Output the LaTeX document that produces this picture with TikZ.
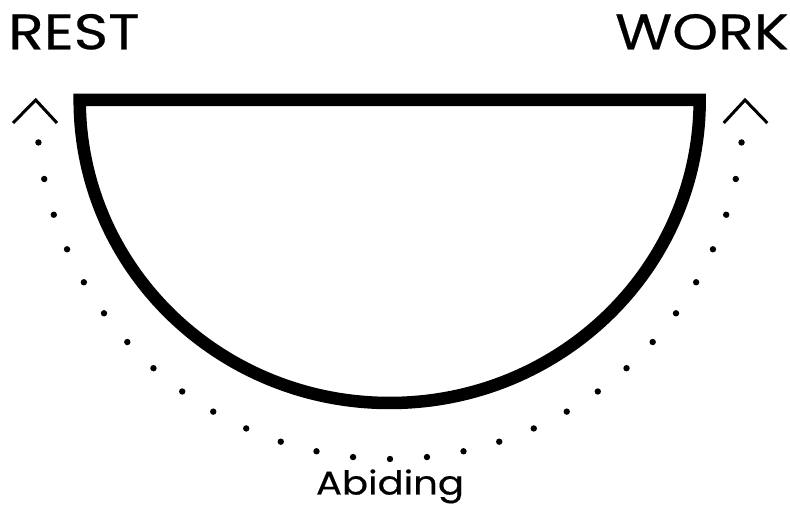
\documentclass[tikz,border=0pt]{standalone}
\usepackage{fontspec}
\setmainfont{Poppins}[FakeStretch=1.17, FakeBold=0.4]
\begin{document}
\begin{tikzpicture}[x=1pt,y=1pt,
  bowl/.style={line width=12.5pt, line join=miter},
  chev/.style={line width=3pt, line join=miter},
  dotmark/.style={fill=black},
  bigword/.style={inner sep=0pt, font=\fontsize{50}{50}\selectfont},
  smallword/.style={inner sep=0pt, font=\fontsize{33}{33}\selectfont}]
\useasboundingbox (0,0) rectangle (790,506);
% half disc
\draw[bowl] (79.7,406) -- (699.7,406) arc[start angle=0, end angle=-180, x radius=310, y radius=303] -- cycle;
% dotted arc
\foreach \a in {186,192,...,354} {
  \fill[dotmark] ({390+353.5*cos(\a)},{400.5+353.5*sin(\a)}) circle[radius=3.2];
}
% chevrons
\draw[chev] (13,383) -- (35.7,406) -- (57,383);
\draw[chev] (723.7,383) -- (745,406) -- (767.3,383);
% labels
\node[bigword, anchor=base west] (rest) at (8,456.7) {REST};
\node[bigword, anchor=base east] (work) at (789,456.7) {WORK};
\node[smallword, anchor=base] (abiding) at (390,11.5) {Abiding};
\end{tikzpicture}
\end{document}
